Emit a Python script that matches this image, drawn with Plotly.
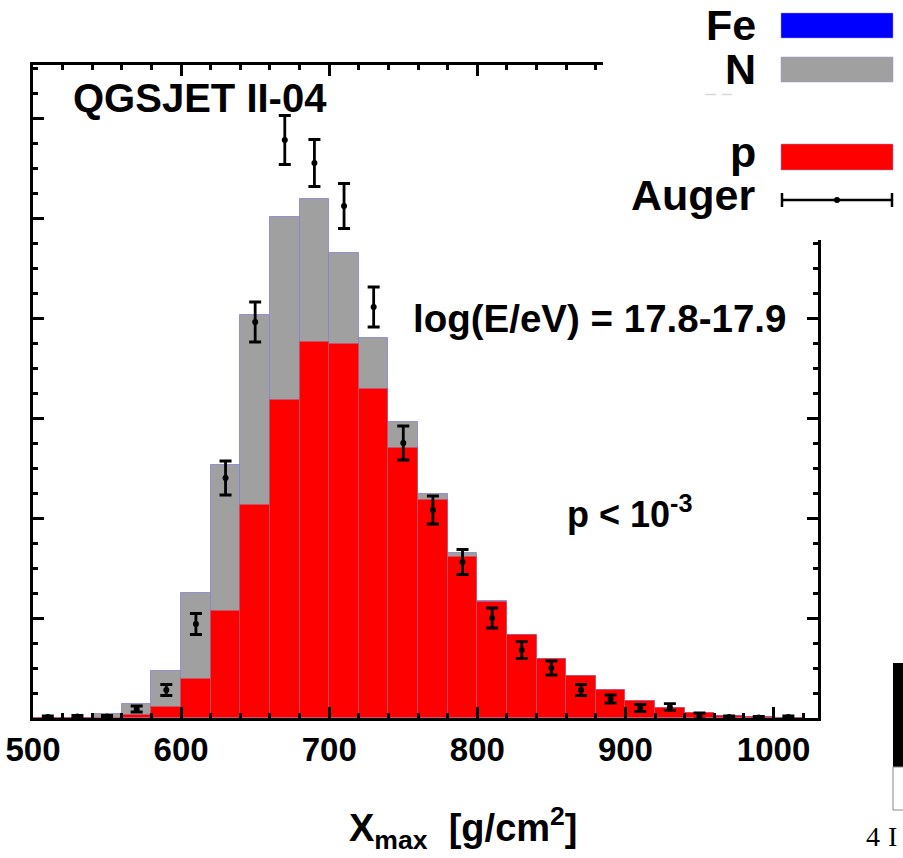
import plotly.graph_objects as go

# ---------------- data ----------------
bin_centers = [510, 530, 550, 570, 590, 610, 630, 650, 670, 690, 710, 730, 750,
               770, 790, 810, 830, 850, 870, 890, 910, 930, 950, 970, 990, 1010]
n_counts = [0, 0, 4, 14, 47, 125, 253, 403, 501, 519, 465, 380, 296,
            224, 165, 117, 83, 59, 42, 28, 17, 10, 5, 2, 1, 0]
p_counts = [0, 0, 0, 3, 11, 39, 107, 213, 318, 376, 374, 329, 270,
            218, 161, 116, 83, 59, 42, 28, 17, 10, 5, 2, 1, 0]
auger_counts = [1, 1.5, 1.5, 9, 28, 94, 240, 396, 578, 555, 512, 411, 275,
                208, 156, 100, 68, 50, 28, 19, 10, 11, 2, 1, 0.5, 1]
auger_err = [1, 1, 1, 3, 5.5, 10.5, 17, 20, 24.5, 23.5, 22.5, 20, 17,
             14, 12.5, 10, 8.3, 7, 5.5, 4, 3.5, 3.3, 3, 1, 1, 1]
x_tick_vals = [500, 600, 700, 800, 900, 1000]
x_tick_text = ["500", "600", "700", "800", "900", "1000"]

# ---------------- layout helpers ----------------
W, H = 903, 858
L, R, T, B = 33, 818, 65, 718


def px(x):
    return (x - L) / (R - L)


def py(y):
    return (B - y) / (B - T)


FONT = "Liberation Sans"

fig = go.Figure()
fig.add_trace(go.Bar(x=bin_centers, y=n_counts, width=20, name="N",
                     marker=dict(color="#a0a0a0",
                                 line=dict(color="rgba(130,130,210,0.8)", width=1)),
                     showlegend=False))
fig.add_trace(go.Bar(x=bin_centers, y=p_counts, width=20, name="p",
                     marker=dict(color="#ff0000",
                                 line=dict(color="rgba(190,90,120,0.6)", width=1)),
                     showlegend=False))
fig.add_trace(go.Scatter(x=bin_centers, y=auger_counts, mode="markers", name="Auger",
                         marker=dict(color="black", size=6),
                         error_y=dict(type="data", array=auger_err, visible=True,
                                      color="black", thickness=2.8, width=6),
                         showlegend=False, cliponaxis=False))

axis_common = dict(showline=True, linewidth=3, linecolor="black", mirror="ticks",
                   ticks="inside", tickwidth=3, tickcolor="black",
                   showgrid=False, zeroline=False, automargin=False)

fig.update_xaxes(range=[500, 1030], tickvals=x_tick_vals, ticktext=x_tick_text,
                 ticklen=11,
                 tickfont=dict(family=FONT, size=33, color="black", weight="bold"),
                 ticklabelstandoff=0,
                 minor=dict(dtick=20, tick0=500, ticks="inside", ticklen=5,
                            tickwidth=2.5, tickcolor="black"),
                 **axis_common)
fig.update_yaxes(range=[0, 653], dtick=100, tick0=0, ticklen=11,
                 showticklabels=False,
                 minor=dict(dtick=25, tick0=0, ticks="inside", ticklen=5,
                            tickwidth=2.5, tickcolor="black"),
                 **axis_common)

shapes = []
# white cover over the top-right corner (legend panel)
shapes.append(dict(type="rect", xref="paper", yref="paper",
                   x0=px(603), x1=px(910), y0=py(240), y1=py(-10),
                   fillcolor="white", line=dict(width=0), layer="above"))
# legend swatches
for (y0, y1, col) in [(13, 38, "#0000ff"), (57, 82, "#a0a0a0"), (144, 170, "#ff0000")]:
    shapes.append(dict(type="rect", xref="paper", yref="paper",
                       x0=px(781), x1=px(893), y0=py(y1), y1=py(y0),
                       fillcolor=col, line=dict(width=0.8, color="rgba(150,150,220,0.6)"),
                       layer="above"))
# Auger legend symbol
shapes.append(dict(type="line", xref="paper", yref="paper",
                   x0=px(782), x1=px(892), y0=py(200), y1=py(200),
                   line=dict(color="black", width=2.5), layer="above"))
for xx in (782, 892):
    shapes.append(dict(type="line", xref="paper", yref="paper",
                       x0=px(xx), x1=px(xx), y0=py(193), y1=py(207),
                       line=dict(color="black", width=2.5), layer="above"))
shapes.append(dict(type="circle", xref="paper", yref="paper",
                   x0=px(834), x1=px(840), y0=py(203), y1=py(197),
                   fillcolor="black", line=dict(width=0), layer="above"))
# faint remnant of a hidden legend label
shapes.append(dict(type="line", xref="paper", yref="paper",
                   x0=px(705), x1=px(716), y0=py(94.5), y1=py(94.5),
                   line=dict(color="#d8d8d8", width=1.5), layer="above"))
shapes.append(dict(type="line", xref="paper", yref="paper",
                   x0=px(722), x1=px(732), y0=py(94.5), y1=py(94.5),
                   line=dict(color="#d8d8d8", width=1.5), layer="above"))
# fragment of a neighbouring figure at the bottom right
shapes.append(dict(type="rect", xref="paper", yref="paper",
                   x0=px(893), x1=px(905), y0=py(767), y1=py(663),
                   fillcolor="black", line=dict(width=0), layer="above"))
shapes.append(dict(type="rect", xref="paper", yref="paper",
                   x0=px(893), x1=px(905), y0=py(810), y1=py(767),
                   fillcolor="white", line=dict(width=1, color="#888888"), layer="above"))

annotations = []


def ann(text, x, y, size, xanchor="left", yanchor="middle", family=FONT, bold=True):
    annotations.append(dict(text=text, xref="paper", yref="paper",
                            x=px(x), y=py(y), xanchor=xanchor, yanchor=yanchor,
                            showarrow=False,
                            font=dict(family=family, size=size, color="black",
                                      weight="bold" if bold else "normal")))


ann("QGSJET II-04", 71, 98, 40)
ann("log(E/eV) = 17.8-17.9", 411, 318, 38.5)
ann("p &lt; 10<sup>-3</sup>", 565, 512, 36)
ann("Fe", 758, 25, 43, xanchor="right")
ann("N", 758, 69, 43, xanchor="right")
ann("p", 758, 152, 43, xanchor="right")
ann("Auger", 758, 195, 43, xanchor="right")
ann("X<sub>max</sub>  [g/cm<sup>2</sup>]", 463, 828, 38, xanchor="center")
ann("4", 864, 836, 28, family="Liberation Serif", bold=False)
ann("I", 886, 836, 28, family="Liberation Serif", bold=False)

fig.update_layout(width=W, height=H, barmode="overlay", bargap=0,
                  margin=dict(l=L, r=W - R, t=T, b=H - B, pad=0, autoexpand=False),
                  plot_bgcolor="white", paper_bgcolor="white",
                  shapes=shapes, annotations=annotations, showlegend=False)

fig.write_html("out.html", config={"displayModeBar": False},
               post_script="document.body.style.margin='0px';document.body.style.padding='0px';")
